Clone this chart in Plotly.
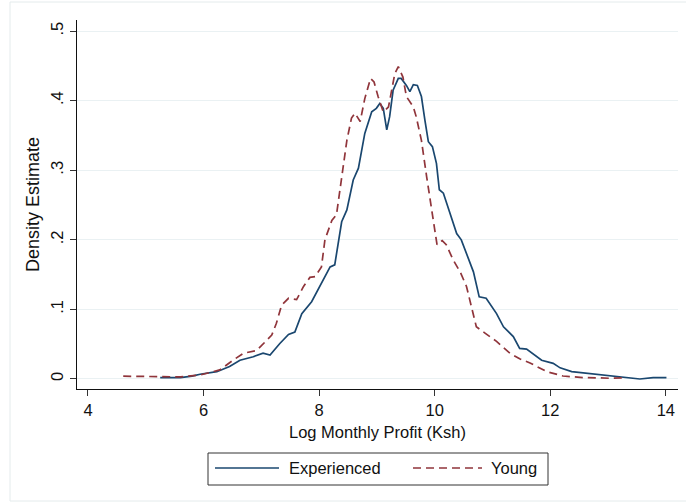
import plotly.graph_objects as go

# Kernel density estimates of log monthly profit (Ksh)
exp_x = [5.25, 5.6, 5.8, 5.94, 6.23, 6.45, 6.63, 6.86, 7.03, 7.15, 7.32, 7.47, 7.58, 7.70,
         7.87, 7.96, 8.07, 8.19, 8.27, 8.39, 8.48, 8.59, 8.68, 8.79, 8.91, 8.99, 9.05, 9.11,
         9.17, 9.22, 9.28, 9.37, 9.42, 9.51, 9.57, 9.63, 9.70, 9.77, 9.83, 9.89, 9.96, 10.03,
         10.08, 10.15, 10.21, 10.29, 10.38, 10.46, 10.58, 10.67, 10.77, 10.89, 11.07, 11.19,
         11.36, 11.47, 11.59, 11.85, 12.05, 12.17, 12.37, 12.63, 12.92, 13.15, 13.43, 13.55,
         13.78, 14.01]
exp_y = [0.002, 0.002, 0.004, 0.0068, 0.0105, 0.018, 0.027, 0.032, 0.037, 0.0345, 0.051, 0.064,
         0.0675, 0.094, 0.111, 0.125, 0.142, 0.161, 0.164, 0.226, 0.243, 0.286, 0.303, 0.353,
         0.384, 0.389, 0.396, 0.389, 0.358, 0.377, 0.415, 0.432, 0.432, 0.422, 0.413, 0.423,
         0.422, 0.406, 0.372, 0.341, 0.334, 0.310, 0.272, 0.267, 0.252, 0.231, 0.209, 0.200,
         0.173, 0.154, 0.118, 0.116, 0.094, 0.075, 0.061, 0.044, 0.043, 0.027, 0.0225, 0.016,
         0.0105, 0.008, 0.0057, 0.0033, 0.001, 0.0, 0.0019, 0.0019]

young_x = [4.61, 5.0, 5.3, 5.6, 5.94, 6.28, 6.51, 6.69, 6.92, 7.01, 7.18, 7.26, 7.35, 7.47,
           7.61, 7.73, 7.84, 7.93, 8.04, 8.10, 8.22, 8.30, 8.39, 8.48, 8.56, 8.62, 8.71, 8.79,
           8.89, 8.95, 9.02, 9.11, 9.20, 9.25, 9.31, 9.37, 9.45, 9.51, 9.57, 9.63, 9.68, 9.77,
           9.86, 9.94, 10.00, 10.04, 10.13, 10.20, 10.32, 10.44, 10.55, 10.64, 10.72, 10.87,
           11.07, 11.30, 11.47, 11.65, 11.94, 12.22, 12.57, 12.86, 13.03, 13.32]
young_y = [0.004, 0.0035, 0.003, 0.003, 0.0057, 0.013, 0.027, 0.037, 0.041, 0.049, 0.063, 0.080,
           0.106, 0.116, 0.114, 0.133, 0.146, 0.147, 0.161, 0.200, 0.228, 0.236, 0.291, 0.343,
           0.375, 0.382, 0.370, 0.403, 0.432, 0.427, 0.406, 0.384, 0.391, 0.413, 0.439, 0.449,
           0.434, 0.406, 0.398, 0.391, 0.377, 0.343, 0.291, 0.248, 0.214, 0.193, 0.199, 0.193,
           0.171, 0.154, 0.133, 0.104, 0.075, 0.066, 0.054, 0.037, 0.029, 0.023, 0.0105, 0.0043,
           0.002, 0.0015, 0.001, 0.002]

x_ticks = [4, 6, 8, 10, 12, 14]
y_ticks = [0, 0.1, 0.2, 0.3, 0.4, 0.5]
y_tick_labels = ["0", ".1", ".2", ".3", ".4", ".5"]

series_names = ["Experienced", "Young"]
NAVY = "#1a476f"
MAROON = "#90353b"
FONT = "Liberation Sans, Arial, sans-serif"
TXT = "#111111"

fig = go.Figure()
fig.add_trace(go.Scatter(x=exp_x, y=exp_y, mode="lines", name=series_names[0],
                         line=dict(color=NAVY, width=1.7), showlegend=False))
fig.add_trace(go.Scatter(x=young_x, y=young_y, mode="lines", name=series_names[1],
                         line=dict(color=MAROON, width=1.7, dash="8px,5px"), showlegend=False))

fig.update_layout(
    width=686, height=502,
    margin=dict(l=77, r=8, t=20, b=113),
    paper_bgcolor="white", plot_bgcolor="white",
    font=dict(family=FONT, size=16.5, color=TXT),
)
fig.update_xaxes(
    range=[3.81, 14.21], tickvals=x_ticks, ticks="outside", ticklen=6, tickcolor="#333",
    showline=True, linecolor="#111", linewidth=1.3, showgrid=False, zeroline=False,
    tickfont=dict(size=16.5, color=TXT),
    title=dict(text="Log Monthly Profit (Ksh)", font=dict(size=16.5, color=TXT), standoff=8),
)
fig.update_yaxes(
    range=[-0.0144, 0.516], tickvals=y_ticks, ticktext=y_tick_labels, tickangle=-90,
    ticks="outside", ticklen=6, tickcolor="#333",
    showline=True, linecolor="#111", linewidth=1.3, showgrid=True,
    gridcolor="#eaf1f3", gridwidth=1.3, zeroline=False,
    tickfont=dict(size=16.5, color=TXT),
    title=dict(text="Density Estimate", font=dict(size=18, color=TXT), standoff=3),
)


def px_x(p):
    return (p - 77) / 601.0


def px_y(p):
    return (389 - p) / 369.0


shapes = [
    # outer graph frame
    dict(type="rect", xref="paper", yref="paper", x0=px_x(10), x1=px_x(700),
         y0=px_y(501), y1=px_y(2), line=dict(color="#e4ebec", width=1)),
    # legend box
    dict(type="rect", xref="paper", yref="paper", x0=px_x(208), x1=px_x(548),
         y0=px_y(485), y1=px_y(453), line=dict(color="#333", width=1), fillcolor="white"),
    dict(type="line", xref="paper", yref="paper", x0=px_x(215), x1=px_x(279),
         y0=px_y(468), y1=px_y(468), line=dict(color=NAVY, width=1.7)),
    dict(type="line", xref="paper", yref="paper", x0=px_x(413), x1=px_x(482),
         y0=px_y(468), y1=px_y(468), line=dict(color=MAROON, width=1.7, dash="8px,5px")),
]
annotations = [
    dict(text=series_names[0], xref="paper", yref="paper", x=px_x(287), y=px_y(468),
         xanchor="left", yanchor="middle", showarrow=False, font=dict(size=16.5, color=TXT)),
    dict(text=series_names[1], xref="paper", yref="paper", x=px_x(489), y=px_y(468),
         xanchor="left", yanchor="middle", showarrow=False, font=dict(size=16.5, color=TXT)),
]
fig.update_layout(shapes=shapes, annotations=annotations)

fig.write_html("out.html")
